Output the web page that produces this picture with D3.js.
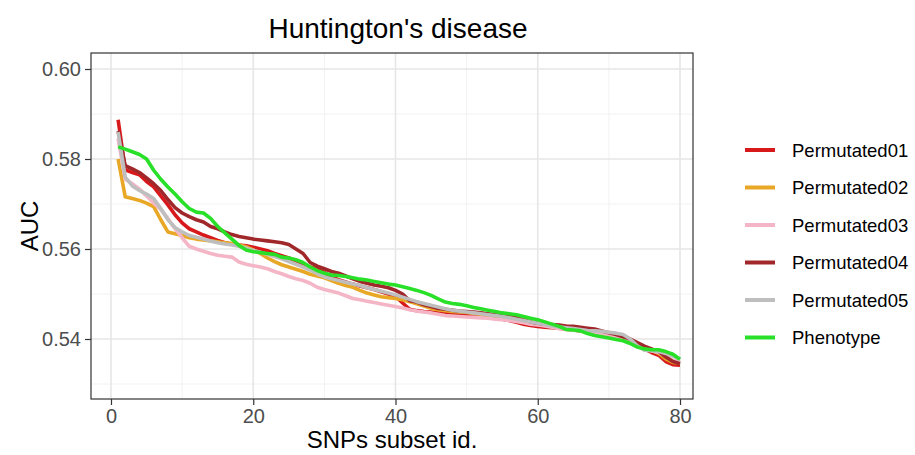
<!DOCTYPE html>
<html>
<head>
<meta charset="utf-8">
<script src="https://cdn.jsdelivr.net/npm/d3@7"></script>
<style>
  body { margin: 0; background: #fff; }
  svg { display: block; font-family: "Liberation Sans", Arial, sans-serif; }
</style>
</head>
<body>
<svg id="chart" width="915" height="455"></svg>
<script>
const seriesNames = ["Permutated01", "Permutated02", "Permutated03", "Permutated04", "Permutated05", "Phenotype"];
const seriesColors = ["#d7191c", "#e8a825", "#f4b6c6", "#a0282b", "#bebebe", "#28e028"];
const xTicks = [0, 20, 40, 60, 80];
const yTicks = [0.54, 0.56, 0.58, 0.60];

const permutated01 = [0.5887,0.5776,0.5770,0.5765,0.5750,0.5738,0.5718,0.5698,0.5676,0.5658,
  0.5645,0.5638,0.5631,0.5625,0.5619,0.5614,0.5611,0.5609,0.5607,0.5604,
  0.5600,0.5596,0.5590,0.5585,0.5580,0.5574,0.5565,0.5560,0.5555,0.5548,
  0.5538,0.5532,0.5527,0.5522,0.5518,0.5514,0.5510,0.5505,0.5500,0.5495,
  0.5480,0.5466,0.5463,0.5461,0.5460,0.5458,0.5457,0.5456,0.5455,0.5454,
  0.5452,0.5450,0.5448,0.5446,0.5444,0.5441,0.5437,0.5433,0.5430,0.5428,
  0.5426,0.5425,0.5424,0.5422,0.5420,0.5418,0.5416,0.5414,0.5412,0.5409,
  0.5406,0.5402,0.5398,0.5390,0.5378,0.5370,0.5364,0.5350,0.5343,0.5342];
const permutated02 = [0.5800,0.5716,0.5712,0.5708,0.5702,0.5694,0.5665,0.5638,0.5634,0.5630,
  0.5625,0.5622,0.5620,0.5618,0.5616,0.5614,0.5612,0.5609,0.5605,0.5598,
  0.5590,0.5580,0.5572,0.5565,0.5560,0.5555,0.5550,0.5544,0.5540,0.5536,
  0.5530,0.5524,0.5519,0.5515,0.5508,0.5502,0.5498,0.5494,0.5492,0.5490,
  0.5487,0.5483,0.5478,0.5473,0.5468,0.5465,0.5463,0.5461,0.5460,0.5459,
  0.5457,0.5455,0.5453,0.5451,0.5449,0.5446,0.5443,0.5440,0.5437,0.5434,
  0.5431,0.5428,0.5426,0.5424,0.5422,0.5420,0.5418,0.5416,0.5414,0.5411,
  0.5408,0.5404,0.5399,0.5390,0.5382,0.5375,0.5368,0.5356,0.5348,0.5346];
const permutated03 = [0.5845,0.5755,0.5745,0.5733,0.5718,0.5702,0.5688,0.5668,0.5645,0.5625,
  0.5606,0.5600,0.5595,0.5590,0.5586,0.5584,0.5582,0.5571,0.5566,0.5563,
  0.5560,0.5556,0.5550,0.5545,0.5539,0.5534,0.5530,0.5524,0.5515,0.5510,
  0.5506,0.5502,0.5496,0.5490,0.5487,0.5484,0.5481,0.5478,0.5475,0.5472,
  0.5469,0.5465,0.5462,0.5460,0.5458,0.5455,0.5452,0.5451,0.5450,0.5449,
  0.5448,0.5447,0.5446,0.5444,0.5443,0.5441,0.5439,0.5436,0.5433,0.5431,
  0.5429,0.5426,0.5423,0.5421,0.5420,0.5418,0.5415,0.5413,0.5411,0.5408,
  0.5405,0.5402,0.5397,0.5388,0.5380,0.5374,0.5370,0.5362,0.5352,0.5349];
const permutated04 = [0.5862,0.5785,0.5778,0.5770,0.5758,0.5745,0.5730,0.5710,0.5692,0.5680,
  0.5672,0.5665,0.5660,0.5650,0.5645,0.5638,0.5632,0.5628,0.5625,0.5622,
  0.5620,0.5618,0.5616,0.5614,0.5610,0.5600,0.5590,0.5570,0.5562,0.5556,
  0.5550,0.5546,0.5540,0.5534,0.5528,0.5524,0.5520,0.5517,0.5514,0.5508,
  0.5500,0.5485,0.5482,0.5476,0.5472,0.5468,0.5466,0.5464,0.5462,0.5461,
  0.5460,0.5458,0.5456,0.5454,0.5452,0.5450,0.5447,0.5443,0.5438,0.5435,
  0.5433,0.5432,0.5431,0.5429,0.5428,0.5426,0.5424,0.5422,0.5418,0.5414,
  0.5410,0.5405,0.5400,0.5392,0.5384,0.5378,0.5372,0.5360,0.5350,0.5345];
const permutated05 = [0.5860,0.5760,0.5740,0.5730,0.5722,0.5712,0.5690,0.5665,0.5648,0.5638,
  0.5630,0.5626,0.5622,0.5618,0.5614,0.5611,0.5609,0.5606,0.5602,0.5597,
  0.5593,0.5588,0.5583,0.5578,0.5572,0.5566,0.5560,0.5553,0.5545,0.5538,
  0.5534,0.5530,0.5526,0.5522,0.5519,0.5514,0.5510,0.5506,0.5502,0.5498,
  0.5493,0.5488,0.5483,0.5479,0.5475,0.5471,0.5467,0.5464,0.5462,0.5460,
  0.5458,0.5456,0.5454,0.5452,0.5450,0.5447,0.5444,0.5441,0.5438,0.5435,
  0.5432,0.5429,0.5427,0.5425,0.5423,0.5421,0.5419,0.5418,0.5417,0.5415,
  0.5413,0.5410,0.5400,0.5385,0.5375,0.5374,0.5372,0.5368,0.5362,0.5355];
const phenotype = [0.5827,0.5822,0.5816,0.5810,0.5800,0.5775,0.5755,0.5738,0.5722,0.5705,
  0.5690,0.5682,0.5680,0.5668,0.5650,0.5636,0.5622,0.5608,0.5598,0.5594,
  0.5592,0.5590,0.5588,0.5582,0.5580,0.5576,0.5570,0.5560,0.5552,0.5546,
  0.5542,0.5541,0.5539,0.5536,0.5533,0.5531,0.5528,0.5525,0.5522,0.5520,
  0.5516,0.5512,0.5508,0.5503,0.5497,0.5489,0.5482,0.5479,0.5477,0.5474,
  0.5470,0.5467,0.5464,0.5461,0.5458,0.5456,0.5454,0.5450,0.5446,0.5443,
  0.5438,0.5433,0.5428,0.5421,0.5420,0.5418,0.5412,0.5408,0.5405,0.5402,
  0.5399,0.5396,0.5390,0.5382,0.5378,0.5376,0.5376,0.5372,0.5366,0.5355];

const allSeries = [permutated01, permutated02, permutated03, permutated04, permutated05, phenotype];

const svg = d3.select("#chart");
const panel = { left: 91, right: 693, top: 53, bottom: 399 };

const x = d3.scaleLinear().domain([0, 80]).range([111, 680]);
const y = d3.scaleLinear().domain([0.54, 0.60]).range([339, 69]);

svg.append("rect")
  .attr("x", panel.left).attr("y", panel.top)
  .attr("width", panel.right - panel.left).attr("height", panel.bottom - panel.top)
  .attr("fill", "#fff");

const gridG = svg.append("g");
const xMinor = [10, 30, 50, 70];
const yMinor = [0.53, 0.55, 0.57, 0.59];
xMinor.forEach(v => gridG.append("line").attr("x1", x(v)).attr("x2", x(v))
  .attr("y1", panel.top).attr("y2", panel.bottom).attr("stroke", "#f2f2f2").attr("stroke-width", 1));
yMinor.forEach(v => gridG.append("line").attr("y1", y(v)).attr("y2", y(v))
  .attr("x1", panel.left).attr("x2", panel.right).attr("stroke", "#f2f2f2").attr("stroke-width", 1));
xTicks.forEach(v => gridG.append("line").attr("x1", x(v)).attr("x2", x(v))
  .attr("y1", panel.top).attr("y2", panel.bottom).attr("stroke", "#e6e6e6").attr("stroke-width", 1.6));
yTicks.forEach(v => gridG.append("line").attr("y1", y(v)).attr("y2", y(v))
  .attr("x1", panel.left).attr("x2", panel.right).attr("stroke", "#e6e6e6").attr("stroke-width", 1.6));

svg.append("clipPath").attr("id", "clip").append("rect")
  .attr("x", panel.left).attr("y", panel.top)
  .attr("width", panel.right - panel.left).attr("height", panel.bottom - panel.top);

const line = d3.line().x((d, i) => x(i + 1)).y(d => y(d));
const linesG = svg.append("g").attr("clip-path", "url(#clip)");
allSeries.forEach((s, k) => {
  linesG.append("path").datum(s)
    .attr("d", line)
    .attr("fill", "none")
    .attr("stroke", seriesColors[k])
    .attr("stroke-width", 3.6)
    .attr("stroke-linejoin", "round")
    .attr("stroke-linecap", "butt");
});

svg.append("rect")
  .attr("x", panel.left).attr("y", panel.top)
  .attr("width", panel.right - panel.left).attr("height", panel.bottom - panel.top)
  .attr("fill", "none").attr("stroke", "#333").attr("stroke-width", 1.2);

const xAxis = d3.axisBottom(x).tickValues(xTicks).tickSize(6).tickPadding(4).tickFormat(d3.format("d"));
const xg = svg.append("g").attr("transform", `translate(0,${panel.bottom})`).call(xAxis);
xg.select(".domain").remove();
xg.selectAll(".tick line").attr("stroke", "#333").attr("stroke-width", 1.2);
xg.selectAll(".tick text").attr("fill", "#4d4d4d").style("font-size", "20px")
  .style("font-family", "'Liberation Sans', Arial, sans-serif");

const yAxis = d3.axisLeft(y).tickValues(yTicks).tickSize(6).tickPadding(4).tickFormat(d3.format(".2f"));
const yg = svg.append("g").attr("transform", `translate(${panel.left},0)`).call(yAxis);
yg.select(".domain").remove();
yg.selectAll(".tick line").attr("stroke", "#333").attr("stroke-width", 1.2);
yg.selectAll(".tick text").attr("fill", "#4d4d4d").style("font-size", "20px")
  .style("font-family", "'Liberation Sans', Arial, sans-serif");

svg.append("text").attr("x", 398).attr("y", 38).attr("text-anchor", "middle")
  .style("font-size", "28px").attr("fill", "#000").text("Huntington's disease");
svg.append("text").attr("x", (panel.left + panel.right) / 2).attr("y", 448).attr("text-anchor", "middle")
  .style("font-size", "24px").attr("fill", "#000").text("SNPs subset id.");
svg.append("text").attr("transform", `translate(38,${(panel.top + panel.bottom) / 2}) rotate(-90)`)
  .attr("text-anchor", "middle").style("font-size", "24px").attr("fill", "#000").text("AUC");

const legend = svg.append("g");
seriesNames.forEach((name, k) => {
  const cy = 150 + k * 37.5;
  legend.append("line").attr("x1", 745).attr("x2", 775).attr("y1", cy).attr("y2", cy)
    .attr("stroke", seriesColors[k]).attr("stroke-width", 4);
  legend.append("text").attr("x", 792).attr("y", cy).attr("dy", "0.36em")
    .style("font-size", "18.5px").attr("fill", "#000").text(name);
});
</script>
</body>
</html>
